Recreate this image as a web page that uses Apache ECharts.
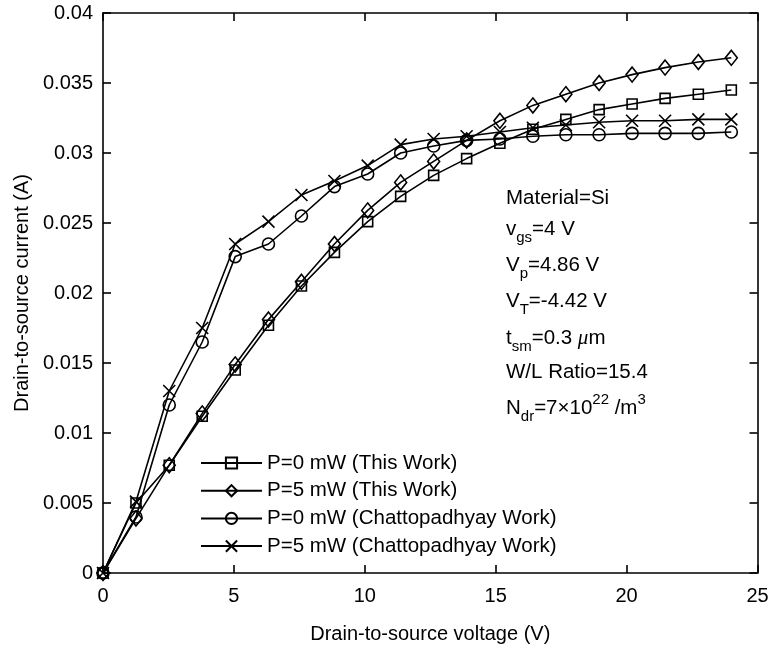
<!DOCTYPE html>
<html>
<head>
<meta charset="utf-8">
<script src="https://cdn.jsdelivr.net/npm/echarts@6/dist/echarts.min.js"></script>
<style>
html,body{margin:0;padding:0;background:#fff;}
#chart{width:772px;height:649px;}
</style>
</head>
<body>
<div id="chart"></div>
<script>
var voltage = [0, 1.26, 2.53, 3.79, 5.05, 6.32, 7.58, 8.84, 10.11, 11.37, 12.63, 13.89, 15.16, 16.42, 17.68, 18.95, 20.21, 21.47, 22.74, 24.0];
var p0This = [0, 0.0050, 0.0077, 0.0112, 0.0145, 0.0177, 0.0205, 0.0229, 0.0251, 0.0269, 0.0284, 0.0296, 0.0307, 0.0317, 0.0324, 0.0331, 0.0335, 0.0339, 0.0342, 0.0345];
var p5This = [0, 0.0039, 0.0077, 0.0114, 0.0149, 0.0181, 0.0208, 0.0235, 0.0259, 0.0279, 0.0294, 0.0309, 0.0323, 0.0334, 0.0342, 0.0350, 0.0356, 0.0361, 0.0365, 0.0368];
var p0Chat = [0, 0.0040, 0.0120, 0.0165, 0.0226, 0.0235, 0.0255, 0.0276, 0.0285, 0.0300, 0.0305, 0.0309, 0.0310, 0.0312, 0.0313, 0.0313, 0.0314, 0.0314, 0.0314, 0.0315];
var p5Chat = [0, 0.0051, 0.0130, 0.0175, 0.0235, 0.0251, 0.0270, 0.0280, 0.0291, 0.0306, 0.0310, 0.0312, 0.0315, 0.0318, 0.0320, 0.0322, 0.0323, 0.0323, 0.0324, 0.0324];
var seriesNames = ['P=0 mW (This Work)', 'P=5 mW (This Work)', 'P=0 mW (Chattopadhyay Work)', 'P=5 mW (Chattopadhyay Work)'];
var xTickMin = 0, xTickMax = 25, xTickStep = 5;
var yTickMin = 0, yTickMax = 0.04, yTickStep = 0.005;

var FONT = 'Liberation Sans, Arial, Helvetica, sans-serif';
var chart = echarts.init(document.getElementById('chart'), null, {renderer: 'canvas'});

function pairs(ys) { return voltage.map(function (x, i) { return [x, ys[i]]; }); }
function mk(name, ys, symbol, size) {
  return {
    name: name, type: 'line', data: pairs(ys),
    symbol: symbol, symbolSize: size, showAllSymbol: true,
    lineStyle: {color: '#000', width: 1.6},
    itemStyle: {color: 'rgba(0,0,0,0)', borderColor: '#000', borderWidth: 1.6},
    emphasis: {disabled: true}, z: 3
  };
}
var axisCommon = {
  axisLine: {show: true, onZero: false, lineStyle: {color: '#000', width: 1.6}},
  axisTick: {show: true, inside: true, length: 8, lineStyle: {color: '#000', width: 1.6}},
  splitLine: {show: false}
};

var subS = {fontSize: 15, fontFamily: FONT, color: '#000', lineHeight: 32, verticalAlign: 'bottom'};
var supS = {fontSize: 15, fontFamily: FONT, color: '#000', lineHeight: 32, verticalAlign: 'top'};
var mainS = {fontSize: 20.5, fontFamily: FONT, color: '#000', lineHeight: 32};
var muS = {fontSize: 21, fontFamily: 'Liberation Serif, serif', fontStyle: 'italic', color: '#000', lineHeight: 32};
var rich = {m: mainS, s: subS, p: supS, u: muS};
var annLines = [
  ['{m|Material=Si}', 198],
  ['{m|v}{s|gs}{m|=4 V}', 229],
  ['{m|V}{s|p}{m|=4.86 V}', 265],
  ['{m|V}{s|T}{m|=-4.42 V}', 301],
  ['{m|t}{s|sm}{m|=0.3 }{u|μ}{m|m}', 338],
  ['{m|W/L Ratio=15.4}', 372],
  ['{m|N}{s|dr}{m|=7×10}{p|22}{m| /m}{p|3}', 408]
];
var graphics = annLines.map(function (l) {
  return {type: 'text', x: 506, y: l[1], z: 10,
    style: {text: l[0], rich: rich, verticalAlign: 'middle', align: 'left', fill: '#000'}};
});

chart.setOption({
  animation: false,
  backgroundColor: '#fff',
  textStyle: {fontFamily: FONT},
  grid: {left: 103, right: 14.5, top: 13, bottom: 73, containLabel: false},
  legend: {
    data: seriesNames, orient: 'vertical', left: 200, top: 452, padding: 0,
    itemWidth: 61, itemHeight: 14, itemGap: 5.7,
    textStyle: {fontSize: 20.5, fontFamily: FONT, color: '#000', lineHeight: 22},
    selectedMode: false, backgroundColor: 'rgba(0,0,0,0)'
  },
  xAxis: [
    Object.assign({type: 'value', min: xTickMin, max: xTickMax, interval: xTickStep, position: 'bottom',
      name: 'Drain-to-source voltage (V)', nameLocation: 'middle', nameGap: 51,
      nameTextStyle: {fontSize: 20, fontFamily: FONT, color: '#000'},
      axisLabel: {fontSize: 20, fontFamily: FONT, color: '#000', margin: 13}}, axisCommon),
    Object.assign({type: 'value', min: xTickMin, max: xTickMax, interval: xTickStep, position: 'top',
      axisLabel: {show: false}}, axisCommon)
  ],
  yAxis: [
    Object.assign({type: 'value', min: yTickMin, max: yTickMax, interval: yTickStep, position: 'left',
      name: 'Drain-to-source current (A)', nameLocation: 'middle', nameGap: 71,
      nameTextStyle: {fontSize: 20, fontFamily: FONT, color: '#000'},
      axisLabel: {fontSize: 20, fontFamily: FONT, color: '#000', margin: 10,
        formatter: function (v) { return String(parseFloat(v.toFixed(3))); }}}, axisCommon),
    Object.assign({type: 'value', min: yTickMin, max: yTickMax, interval: yTickStep, position: 'right',
      axisLabel: {show: false}}, axisCommon)
  ],
  series: [
    mk(seriesNames[0], p0This, 'rect', 10),
    mk(seriesNames[1], p5This, 'diamond', [12, 15]),
    mk(seriesNames[2], p0Chat, 'circle', 12),
    mk(seriesNames[3], p5Chat, 'path://M0,0L10,10M10,0L0,10', 12)
  ],
  graphic: graphics
});
</script>
</body>
</html>
